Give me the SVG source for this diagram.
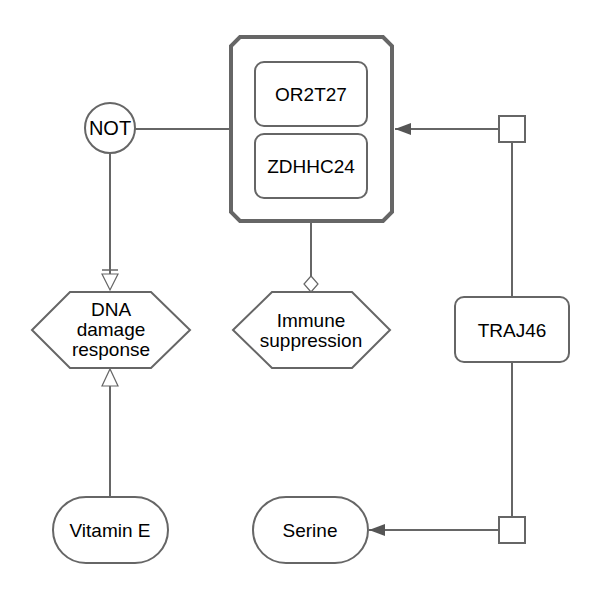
<svg xmlns="http://www.w3.org/2000/svg" width="600" height="600" viewBox="0 0 600 600">
<style>
text{font-family:"Liberation Sans",Arial,sans-serif;font-size:19px;fill:#000;text-anchor:middle}
.n{fill:#fff;stroke:#666;stroke-width:2}
.c{fill:none;stroke:#666;stroke-width:2}
</style>
<defs>
<marker id="filled" markerWidth="16" markerHeight="12" refX="16" refY="6" orient="auto" markerUnits="userSpaceOnUse"><path d="M0,0L16,6L0,12Z" fill="#555"/></marker>
</defs>
<rect width="600" height="600" fill="#fff"/>
<g id="connectors">
<line class="c" x1="135" y1="129" x2="230" y2="129"/>
<line class="c" x1="110" y1="153" x2="110" y2="274"/>
<line x1="102" y1="270" x2="118" y2="270" stroke="#666" stroke-width="1.5"/>
<path d="M102,274L118,274L110,290Z" fill="#fff" stroke="#666" stroke-width="1.2"/>
<line class="c" x1="110" y1="497" x2="110" y2="386"/>
<path d="M102,386L118,386L110,369Z" fill="#fff" stroke="#666" stroke-width="1.2"/>
<line class="c" x1="311" y1="223" x2="311" y2="276"/>
<path d="M311,276L318,284L311,292L304,284Z" fill="#fff" stroke="#666" stroke-width="1.2"/>
<line class="c" x1="499" y1="129" x2="395" y2="129" marker-end="url(#filled)"/>
<line class="c" x1="512" y1="142" x2="512" y2="297"/>
<line class="c" x1="512" y1="362" x2="512" y2="517"/>
<line class="c" x1="499" y1="530" x2="369" y2="530" marker-end="url(#filled)"/>
</g>
<g id="complex">
<path d="M240,37L383,37L392,46L392,212L383,221L240,221L231,212L231,46Z" fill="#fff" stroke="#666" stroke-width="4"/>
<g id="OR2T27"><rect class="n" x="255" y="62" width="112" height="64" rx="9"/><text x="311" y="101">OR2T27</text></g>
<g id="ZDHHC24"><rect class="n" x="255" y="134" width="112" height="64" rx="9"/><text x="311" y="173">ZDHHC24</text></g>
</g>
<g id="NOT"><circle class="n" cx="110" cy="128" r="25" stroke-width="1.5"/><text x="110" y="135" style="font-size:20px">NOT</text></g>
<g id="DNA"><path class="n" d="M32,330L70,292L151,292L190,330L151,368L70,368Z"/><text x="111" y="316">DNA</text><text x="111" y="336">damage</text><text x="111" y="356">response</text></g>
<g id="Immune"><path class="n" d="M233,330L272,292L352,292L390,330L352,368L272,368Z"/><text x="311" y="327">Immune</text><text x="311" y="347">suppression</text></g>
<g id="TRAJ46"><rect class="n" x="455" y="297" width="114" height="65" rx="9"/><text x="512" y="337">TRAJ46</text></g>
<g id="sq1"><rect class="n" x="499" y="116" width="26" height="26"/></g>
<g id="sq2"><rect class="n" x="499" y="517" width="26" height="26"/></g>
<g id="VitaminE"><rect class="n" x="53" y="497" width="115" height="66" rx="33"/><text x="110" y="537">Vitamin E</text></g>
<g id="Serine"><rect class="n" x="253" y="497" width="115" height="66" rx="33"/><text x="310" y="537">Serine</text></g>
</svg>
